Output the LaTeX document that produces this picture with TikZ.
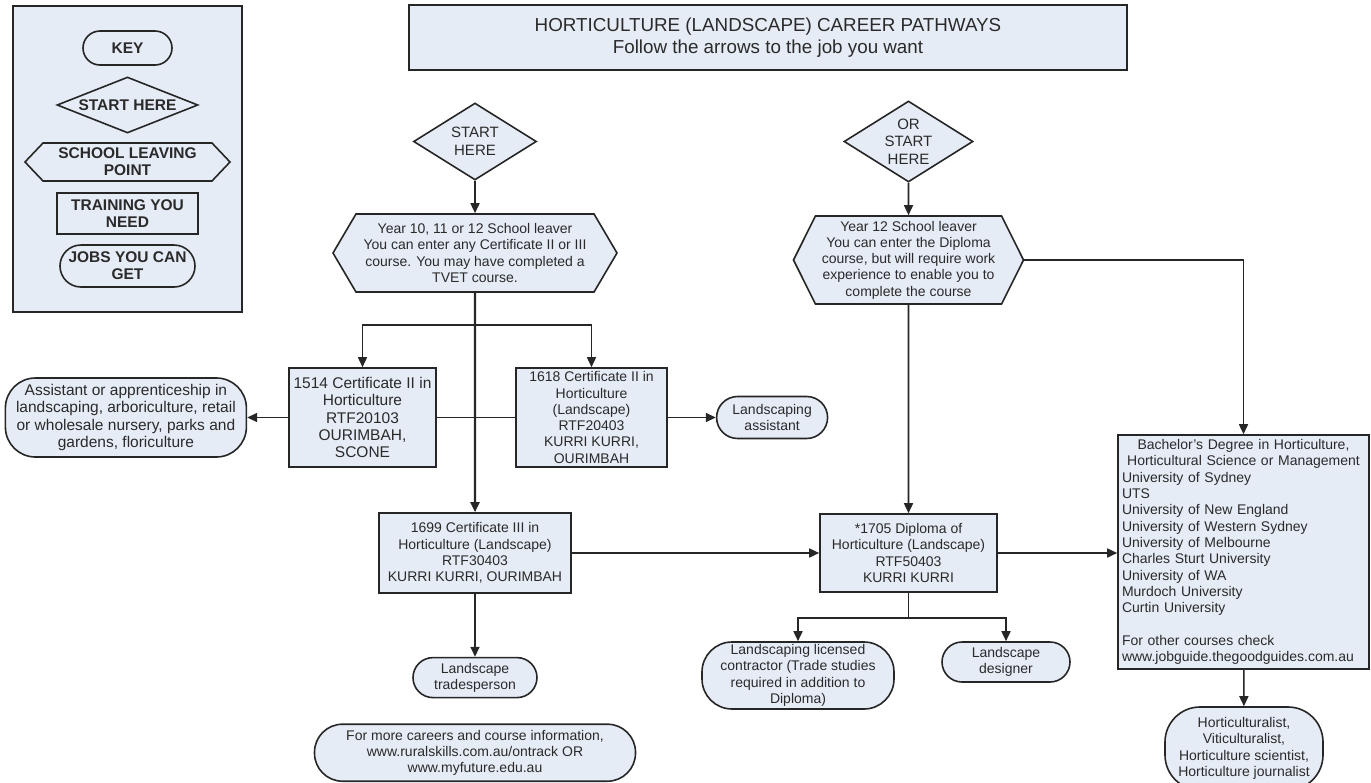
\documentclass[tikz,border=0pt]{standalone}
\usepackage{fontspec}
\setmainfont{Liberation Sans}
\usepackage{tikz}
\usetikzlibrary{shapes.geometric, shapes.symbols, arrows.meta, positioning, backgrounds}
\definecolor{Fill}{HTML}{E6ECF6}
\definecolor{Ink} {HTML}{262626}
\definecolor{Text}{HTML}{2A2A2A}
\tikzset{
  base/.style={draw=Ink, fill=Fill, line width=1.6pt, text=Text, align=center, inner sep=1pt,
               font=\fontsize{14}{16.3}\selectfont},
  train/.style={base, rectangle},
  job/.style={base, rounded corners=#1},
  job/.default=20pt,
  startdia/.style={base, diamond, aspect=#1, inner sep=0pt, font=\fontsize{15}{17.5}\selectfont},
  leaver/.style={base, signal, signal to=east and west, signal pointer angle=#1},
  keyfont/.style={font=\bfseries\fontsize{15.5}{17.3}\selectfont},
  big/.style={font=\fontsize{15.5}{17.2}\selectfont},
  arr/.style={-{Triangle[length=10pt,width=9pt]}, line width=1.6pt, draw=Ink}
}

\begin{document}
\begin{tikzpicture}[x=1pt, y=-1pt]
  \useasboundingbox (0,0) rectangle (1371,782);
  % key
  \node[train, minimum width=229pt, minimum height=306pt] (key) at (127.5,159) {};
  \node[job=17pt, keyfont, minimum width=89pt, minimum height=34pt] (keyhd) at (127.5,48) {KEY};
  \node[startdia=2.5, keyfont, minimum width=141pt, minimum height=56pt] (keystart) at (127.5,105) {START HERE};
  \node[leaver=93, keyfont, minimum width=205pt, minimum height=38pt, inner sep=0pt] (keyleave) at (127.5,162) {SCHOOL LEAVING\\POINT};
  \node[train, keyfont, minimum width=141pt, minimum height=41pt] (keytrain) at (127.5,213.5) {TRAINING YOU\\NEED};
  \node[job=21pt, keyfont, minimum width=135pt, minimum height=42pt, inner sep=0pt] (keyjobs) at (127.5,266) {JOBS YOU CAN\\GET};
  \node[train, minimum width=718pt, minimum height=65pt, font=\fontsize{18.8}{22}\selectfont] (title) at (768,37.5)
    {HORTICULTURE (LANDSCAPE) CAREER PATHWAYS\\Follow the arrows to the job you want};

  % first start
  \node[startdia=1.6, minimum width=123pt, minimum height=77pt] (start1) at (475,141.5) {START\\HERE};
  \node[leaver=119, minimum width=284pt, minimum height=78pt] (leave1) at (475,253)
    {Year 10, 11 or 12 School leaver\\You can enter any Certificate II or III\\course. You may have completed a\\TVET course.};
  \node[train, big, minimum width=147pt, minimum height=99pt] (c1514) at (362.5,417.5)
    {1514 Certificate II in\\Horticulture\\RTF20103\\OURIMBAH,\\SCONE};
  \node[train, minimum width=151pt, minimum height=99pt] (c1618) at (591.5,417.5)
    {1618 Certificate II in\\Horticulture\\(Landscape)\\RTF20403\\KURRI KURRI,\\OURIMBAH};
  \node[job=30pt, big, minimum width=241pt, minimum height=79pt, left=41pt of c1514] (jobasst)
    {Assistant or apprenticeship in\\landscaping, arboriculture, retail\\or wholesale nursery, parks and\\gardens, floriculture};
  \node[job=21pt, minimum width=111pt, minimum height=42pt, right=48pt of c1618] (joblasst) {Landscaping\\assistant};
  \node[train, minimum width=192pt, minimum height=80pt] (c1699) at (475,553)
    {1699 Certificate III in\\Horticulture (Landscape)\\RTF30403\\KURRI KURRI, OURIMBAH};
  \node[job=20pt, minimum width=124pt, minimum height=40pt, below=63pt of c1699] (jobtrade) {Landscape\\tradesperson};
  \node[job=28pt, minimum width=321pt, minimum height=57pt, below=25pt of jobtrade] (more)
    {For more careers and course information,\\www.ruralskills.com.au/ontrack OR\\www.myfuture.edu.au};

  % second start
  \node[startdia=1.59, minimum width=129pt, minimum height=81pt] (start2) at (908.5,141.5) {OR\\START\\HERE};
  \node[leaver=127, minimum width=230pt, minimum height=88pt] (leave2) at (908.5,260)
    {Year 12 School leaver\\You can enter the Diploma\\course, but will require work\\experience to enable you to\\complete the course};
  \node[train, minimum width=177pt, minimum height=78pt] (dip) at (908.5,553)
    {*1705 Diploma of\\Horticulture (Landscape)\\RTF50403\\KURRI KURRI};
  \node[job=30pt, minimum width=192pt, minimum height=67pt] (jobcontr) at (798,675.5)
    {Landscaping licensed\\contractor (Trade studies\\required in addition to\\Diploma)};
  \node[job=20pt, minimum width=128pt, minimum height=40pt] (jobdes) at (1006,662) {Landscape\\designer};
  \node[train, align=left, text width=243pt, minimum width=251pt, minimum height=234pt, inner sep=4pt] (bach) at (1243.5,552)
    {\makebox[\linewidth][c]{Bachelor’s Degree in Horticulture,}\\
     \makebox[\linewidth][c]{Horticultural Science or Management}\\
     University of Sydney\\UTS\\University of New England\\University of Western Sydney\\
     University of Melbourne\\Charles Sturt University\\University of WA\\Murdoch University\\
     Curtin University\\[16.3pt]For other courses check\\www.jobguide.thegoodguides.com.au};
  \node[job=35pt, minimum width=158pt, minimum height=83pt, inner sep=0pt] (jobhort) at (1244,748.5)
    {Horticulturalist,\\Viticulturalist,\\Horticulture scientist,\\Horticulture journalist};

  \draw[arr] (start1) -- (leave1);
  \draw[arr, line width=2.2pt] (leave1) -- (c1699);
  \draw[arr] (leave1.south) -- ++(0,32) -| (c1514.north);
  \draw[arr] (leave1.south) -- ++(0,32) -| (c1618.north);
  \draw[line width=1.6pt, draw=Ink] (c1514.east) -- (c1618.west);
  \draw[arr] (c1514) -- (jobasst);
  \draw[arr] (c1618) -- (joblasst);
  \draw[arr] (c1699) -- (jobtrade);
  \draw[arr] (c1699) -- (dip);
  \draw[arr] (start2) -- (leave2);
  \draw[arr] (leave2) -- (dip);
  \draw[arr] (leave2.east) -| (bach.north);
  \draw[arr] (dip.east) -- (bach.west |- dip.east);
  \draw[arr] (bach) -- (jobhort);
  \draw[arr] (dip.south) -- ++(0,25) -| (jobcontr.north);
  \draw[arr] (dip.south) -- ++(0,25) -| (jobdes.north);
\end{tikzpicture}
\end{document}
